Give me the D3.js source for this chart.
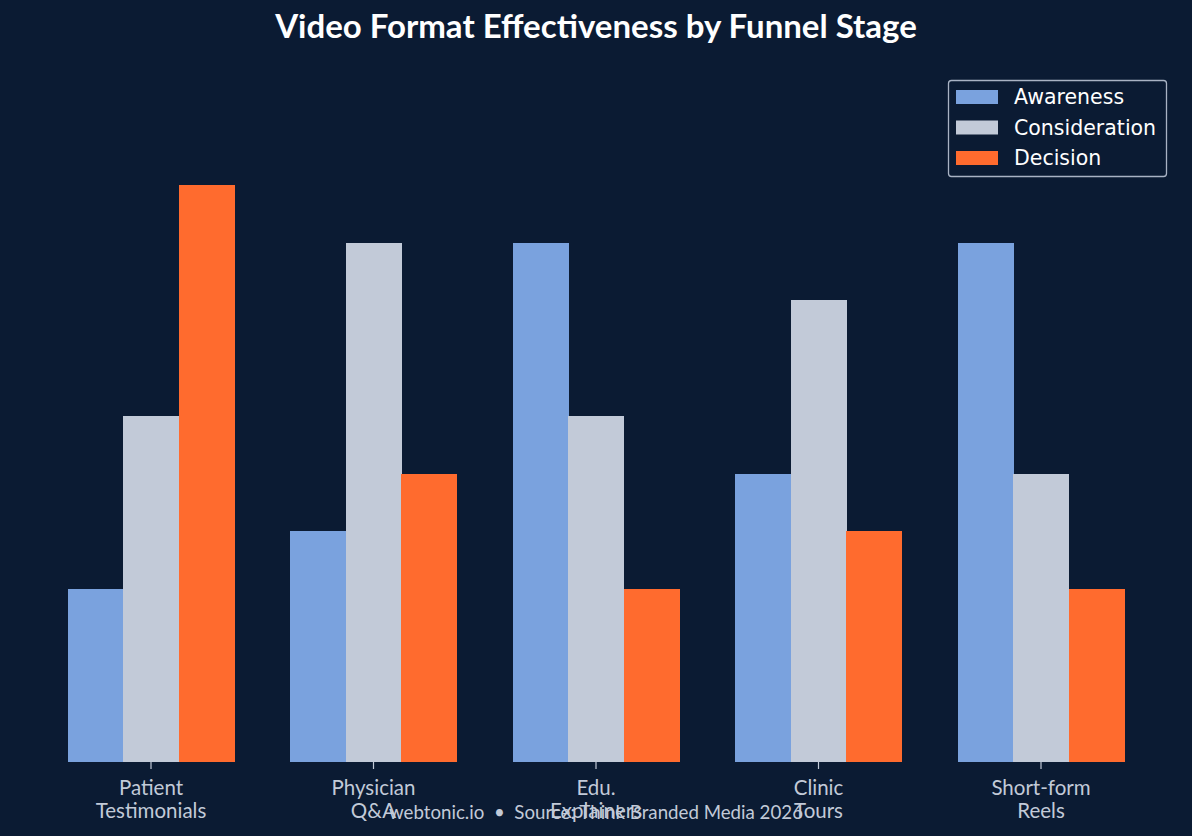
<!DOCTYPE html>
<html><head><meta charset="utf-8">
<script src="https://cdn.jsdelivr.net/npm/d3@7"></script>
<style>html,body{margin:0;padding:0;background:#0b1b33;}svg{display:block;}</style>
</head><body>
<svg id="chart" width="1192" height="836"></svg>
<script>
const categories = ["Patient\nTestimonials", "Physician\nQ&A", "Edu.\nExplainers", "Clinic\nTours", "Short-form\nReels"];
const seriesNames = ["Awareness", "Consideration", "Decision"];
const awareness = [3, 4, 9, 5, 9];
const consideration = [6, 9, 6, 8, 5];
const decision = [10, 5, 3, 4, 3];
const colors = ["#7aa2de", "#c2cad8", "#ff6b2e"];
const titleText = "Video Format Effectiveness by Funnel Stage";
const footerText = "webtonic.io  \u2022  Source: Think Branded Media 2026";

const series = [awareness, consideration, decision];
const svg = d3.select("#chart");
const W = 1192, H = 836;
svg.append("rect").attr("width", W).attr("height", H).attr("fill", "#0b1b33");

const baseY = 762;
const unit = 57.7;
const y = d3.scaleLinear().domain([0, 10]).range([baseY, baseY - unit * 10]);
const step = 222.5;
const x = d3.scaleLinear().domain([0, 4]).range([151, 151 + step * 4]);
const barW = step * 0.25;

series.forEach((vals, si) => {
  svg.append("g").attr("shape-rendering", "crispEdges").selectAll("rect").data(vals).join("rect")
    .attr("x", (d, i) => x(i) + (si - 1.5) * barW)
    .attr("y", d => y(d))
    .attr("width", barW + 0.5)
    .attr("height", d => y(0) - y(d))
    .attr("fill", colors[si]);
});

// x axis ticks and labels
const gx = svg.append("g");
categories.forEach((c, i) => {
  gx.append("line").attr("x1", x(i)).attr("x2", x(i)).attr("y1", baseY).attr("y2", baseY + 7)
    .attr("stroke", "#c2cad8").attr("stroke-width", 1.2);
  const t = gx.append("text").attr("x", x(i)).attr("text-anchor", "middle")
    .attr("font-family", "Lato, 'Noto Sans', sans-serif").attr("font-size", 20.5).attr("fill", "#c2cad8");
  c.split("\n").forEach((line, li) => {
    t.append("tspan").attr("x", x(i)).attr("y", 795 + li * 23).text(line);
  });
});

// title
svg.append("text").attr("x", W / 2).attr("y", 38).attr("text-anchor", "middle")
  .attr("font-family", "Lato, sans-serif").attr("font-weight", "bold").attr("font-size", 33)
  .attr("fill", "#ffffff").text(titleText);

// footer
svg.append("text").attr("x", 596).attr("y", 819).attr("text-anchor", "middle")
  .attr("font-family", "Lato, sans-serif").attr("font-size", 18.7).attr("fill", "#c2cad8")
  .attr("xml:space", "preserve").style("white-space", "pre").text(footerText);

// legend
const lg = svg.append("g");
lg.append("rect").attr("x", 948.5).attr("y", 80.5).attr("width", 218).attr("height", 96).attr("rx", 3)
  .attr("fill", "#0b1b33").attr("stroke", "#a9b3c4").attr("stroke-width", 1.3);
seriesNames.forEach((n, i) => {
  const cy = 97 + i * 30.5;
  lg.append("rect").attr("x", 956).attr("y", cy - 7).attr("width", 42).attr("height", 14).attr("fill", colors[i]);
  lg.append("text").attr("x", 1014).attr("y", cy + 7)
    .attr("font-family", "'DejaVu Sans', sans-serif").attr("font-size", 20.5).attr("fill", "#ffffff").text(n);
});
</script>
</body></html>
